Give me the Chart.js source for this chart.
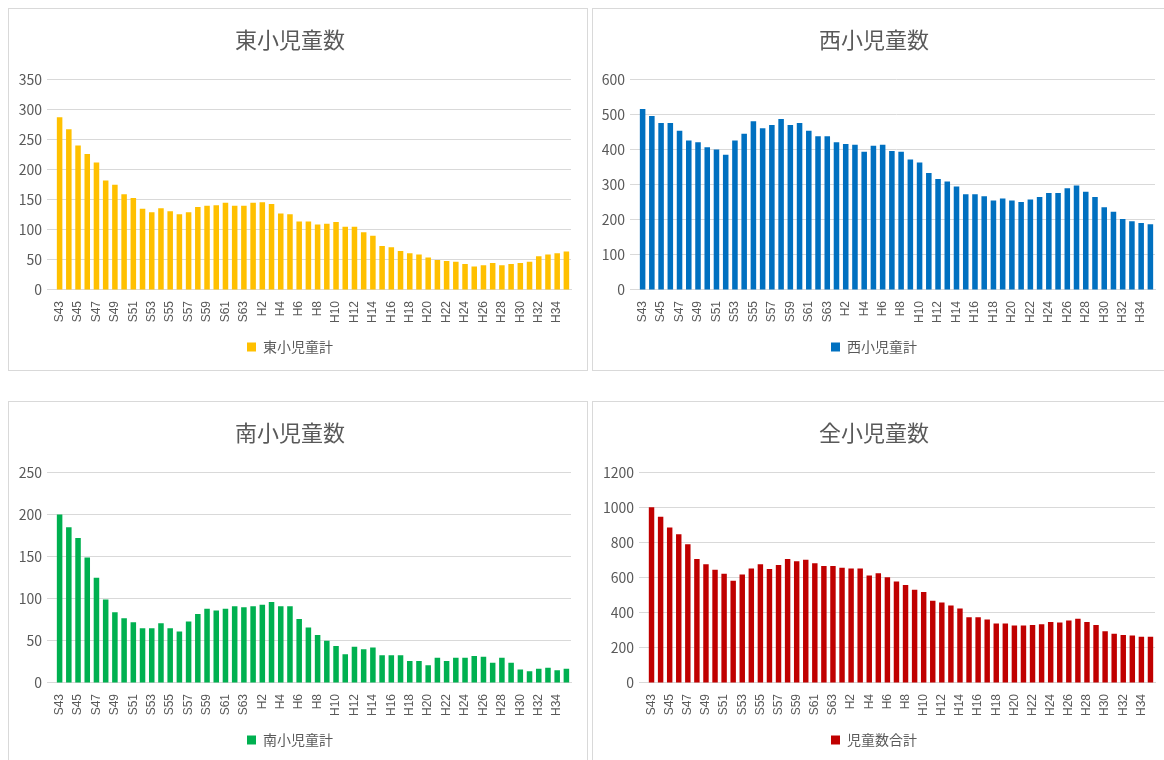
<!DOCTYPE html>
<html lang="ja">
<head>
<meta charset="utf-8">
<title>児童数の推移</title>
<script src="https://cdn.jsdelivr.net/npm/chart.js@4.4.1/dist/chart.umd.min.js"></script>
<style>
  body { margin: 0; background: #fff; width: 1164px; height: 760px; overflow: hidden; position: relative; }
  .panel { position: absolute; width: 580px; height: 363px; box-sizing: border-box; border: 1px solid #d9d9d9; background: #fff; }
  .panel canvas { position: absolute; left: 0; top: 0; }
</style>
</head>
<body>
<div class="panel" style="left:8px; top:8px;"><canvas id="eastChart" width="578" height="361"></canvas></div>
<div class="panel" style="left:592px; top:8px;"><canvas id="westChart" width="578" height="361"></canvas></div>
<div class="panel" style="left:8px; top:401px;"><canvas id="southChart" width="578" height="361"></canvas></div>
<div class="panel" style="left:592px; top:401px;"><canvas id="totalChart" width="578" height="361"></canvas></div>
<script>
const years = [
    "S43", "S44", "S45", "S46", "S47", "S48", "S49", "S50", "S51", "S52", "S53",
    "S54", "S55", "S56", "S57", "S58", "S59", "S60", "S61", "S62", "S63",
    "H1", "H2", "H3", "H4", "H5", "H6", "H7", "H8", "H9", "H10", "H11", "H12",
    "H13", "H14", "H15", "H16", "H17", "H18", "H19", "H20", "H21", "H22", "H23",
    "H24", "H25", "H26", "H27", "H28", "H29", "H30", "H31", "H32", "H33", "H34", "H35"
];

const eastValues = [287, 267, 240, 226, 212, 182, 175, 159, 153, 135, 129, 136, 131, 126, 129, 138, 140, 141, 145, 140,
    140, 145, 146, 143, 127, 126, 114, 114, 109, 110, 113, 105, 105, 96, 90, 73, 71, 65, 61, 59,
    54, 50, 48, 47, 43, 39, 41, 45, 41, 43, 45, 47, 56, 59, 61, 64];

const westValues = [516, 496, 476, 476, 454, 426, 421, 407, 400, 385, 426, 445, 481, 461, 470, 487, 470, 476, 454, 438,
    438, 421, 416, 414, 394, 411, 414, 396, 394, 372, 363, 333, 316, 309, 295, 273, 273, 267, 255, 261,
    255, 251, 258, 265, 276, 276, 290, 298, 280, 265, 236, 223, 202, 196, 191, 187];

const southValues = [200, 185, 172, 149, 125, 99, 84, 77, 72, 65, 65, 71, 65, 61, 73, 82, 88, 86, 88, 91,
    90, 91, 93, 96, 91, 91, 76, 66, 57, 50, 44, 34, 43, 40, 42, 33, 33, 33, 26, 26,
    21, 30, 26, 30, 30, 32, 31, 24, 30, 24, 16, 14, 17, 18, 15, 17];

const totalValues = [1001, 947, 886, 848, 790, 706, 676, 645, 622, 582, 618, 653, 676, 649, 672, 706, 693, 702, 683, 666,
    666, 656, 653, 653, 612, 626, 603, 578, 559, 532, 519, 469, 459, 442, 425, 375, 375, 362, 339, 339,
    327, 327, 331, 335, 348, 344, 356, 366, 348, 331, 295, 281, 274, 270, 264, 264];

Chart.defaults.font.family = "'Noto Sans CJK JP', 'Noto Sans', sans-serif";
Chart.defaults.color = "#595959";
Chart.defaults.animation = false;

function makeChart(id, title, legendLabel, values, color, yMax, yStep, axisWidth) {
    const ctx = document.getElementById(id).getContext("2d");
    return new Chart(ctx, {
        type: "bar",
        data: {
            labels: years,
            datasets: [{
                label: legendLabel,
                data: values,
                backgroundColor: color,
                categoryPercentage: 1.0,
                barPercentage: 0.6
            }]
        },
        options: {
            responsive: false,
            layout: { padding: { left: 0, right: 16, top: 0, bottom: 6 } },
            plugins: {
                title: {
                    display: true,
                    text: title,
                    color: "#595959",
                    font: { size: 22, weight: "normal" },
                    padding: { top: 17, bottom: 27 }
                },
                legend: {
                    position: "bottom",
                    labels: { boxWidth: 9, boxHeight: 9, font: { size: 14 }, color: "#595959" }
                },
                tooltip: { enabled: false }
            },
            scales: {
                x: {
                    grid: { display: false },
                    border: { color: "#d9d9d9" },
                    ticks: {
                        autoSkip: false,
                        minRotation: 90,
                        maxRotation: 90,
                        font: { family: "'Liberation Sans', Arial, sans-serif", size: 12 },
                        color: "#595959",
                        callback: function (val, index) {
                            return index % 2 === 0 ? this.getLabelForValue(val) : "";
                        }
                    },
                    afterFit: scale => { scale.height += 4; }
                },
                y: {
                    min: 0,
                    max: yMax,
                    border: { display: false },
                    grid: { color: "#d9d9d9", lineWidth: 1 },
                    ticks: {
                        stepSize: yStep,
                        font: { size: 14 },
                        color: "#595959",
                        padding: 5,
                        callback: v => String(v)
                    },
                    afterFit: scale => { scale.width = axisWidth; }
                }
            }
        }
    });
}

makeChart("eastChart", "東小児童数", "東小児童計", eastValues, "#FFC000", 350, 50, 46);
makeChart("westChart", "西小児童数", "西小児童計", westValues, "#0070C0", 600, 100, 45);
makeChart("southChart", "南小児童数", "南小児童計", southValues, "#00B050", 250, 50, 46);
makeChart("totalChart", "全小児童数", "児童数合計", totalValues, "#C00000", 1200, 200, 54);
</script>
</body>
</html>
